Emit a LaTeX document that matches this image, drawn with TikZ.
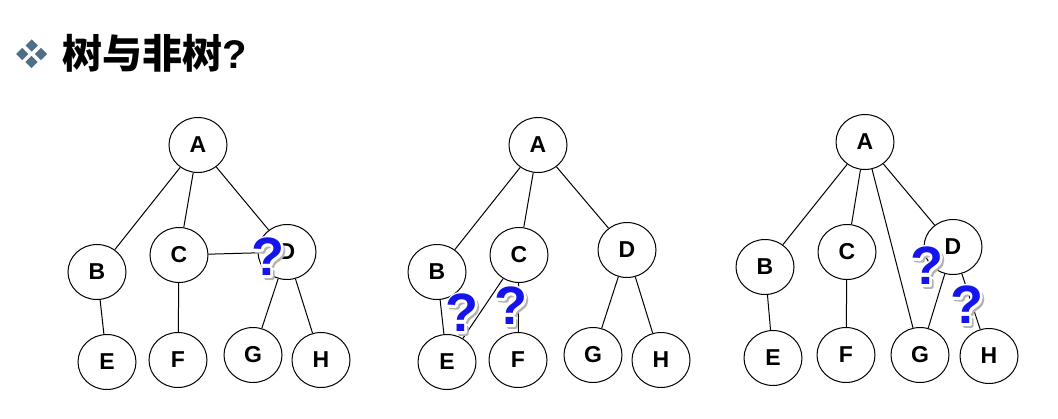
\documentclass[tikz,border=0pt]{standalone}
\usepackage{fontspec}
\setmainfont{Liberation Sans}
\newfontfamily\cjk{Noto Sans CJK SC}
\usetikzlibrary{shapes.geometric}
\definecolor{bullet}{RGB}{79,111,135}
\definecolor{qblue}{RGB}{20,20,235}
% glyphs drawn filled and stroked (text render mode 2), for outlines around a mark
\newcommand\strokedglyph[2]{\special{pdf:literal direct #1 2 Tr 1 j}#2\special{pdf:literal direct 0 Tr}}
\tikzset{
  vertex/.style={ellipse,draw,line width=1pt,inner sep=0pt,minimum width=58pt,minimum height=55pt,
    font=\fontsize{23}{23}\selectfont\bfseries},
  edge/.style={line width=1pt},
  qtext/.style={inner sep=0pt,font=\fontsize{54}{54}\selectfont\bfseries},
  qmarkstyle/.style={qtext,text=qblue},
  dia/.style={fill=bullet,draw=none,diamond,inner sep=0pt,minimum size=12.5pt}
}
% a question mark with a soft grey shadow and a white halo
\newcommand\qmark[3]{%
  \node[qtext,text=black!30,xshift=2.4pt,yshift=-2.4pt] (#1s) at (#2,#3)
    {\strokedglyph{0.7 0.7 0.7 RG 3 w}{?}};
  \node[qtext,text=white] (#1h) at (#2,#3) {\strokedglyph{1 1 1 RG 4.6 w}{?}};
  \node[qmarkstyle] (#1) at (#2,#3) {?};}
\begin{document}
\begin{tikzpicture}[x=1pt,y=-1pt]
\useasboundingbox (0,0) rectangle (1058,418);

% title with bullet
\node[dia] (d1) at (31.7,45.5) {};
\node[dia] (d2) at (22.3,54) {};
\node[dia] (d3) at (41,54) {};
\node[dia] (d4) at (31.5,62) {};
\node[anchor=base west,inner sep=0pt,font=\fontsize{40}{40}\selectfont\bfseries] (title) at (62,68) {{\cjk 树与非树}?};

% first graph
\node[vertex] (A1) at (198,145) {A};
\node[vertex] (B1) at (97,272) {B};
\node[vertex] (C1) at (179,255) {C};
\node[vertex] (D1) at (287,252) {D};
\node[vertex] (E1) at (107,362) {E};
\node[vertex] (F1) at (178,360) {F};
\node[vertex] (G1) at (253,355) {G};
\node[vertex] (H1) at (321,360) {H};
\draw[edge] (A1) -- (B1);
\draw[edge] (A1) -- (C1);
\draw[edge] (A1) -- (D1);
\draw[edge] (B1) -- (E1);
\draw[edge] (C1) -- (F1);
\draw[edge] (C1) -- (D1);
\draw[edge] (D1) -- (G1);
\draw[edge] (D1) -- (H1);
\qmark{q1}{268}{257}

% second graph
\node[vertex] (A2) at (538,145) {A};
\node[vertex] (B2) at (437,272) {B};
\node[vertex] (C2) at (519,255) {C};
\node[vertex] (D2) at (627,250) {D};
\node[vertex] (E2) at (447,362) {E};
\node[vertex] (F2) at (518,360) {F};
\node[vertex] (G2) at (593,355) {G};
\node[vertex] (H2) at (661,360) {H};
\draw[edge] (A2) -- (B2);
\draw[edge] (A2) -- (C2);
\draw[edge] (A2) -- (D2);
\draw[edge] (B2) -- (E2);
\draw[edge] (C2) -- (E2);
\draw[edge] (C2) -- (F2);
\draw[edge] (D2) -- (G2);
\draw[edge] (D2) -- (H2);
\qmark{q2}{462}{313}
\qmark{q3}{511}{306}

% third graph
\node[vertex] (A3) at (865,142) {A};
\node[vertex] (B3) at (765,267) {B};
\node[vertex] (C3) at (847,252) {C};
\node[vertex] (D3) at (953,247) {D};
\node[vertex] (E3) at (773,358) {E};
\node[vertex] (F3) at (846,355) {F};
\node[vertex] (G3) at (920,355) {G};
\node[vertex] (H3) at (989,356) {H};
\draw[edge] (A3) -- (B3);
\draw[edge] (A3) -- (C3);
\draw[edge] (A3) -- (G3);
\draw[edge] (A3) -- (D3);
\draw[edge] (B3) -- (E3);
\draw[edge] (C3) -- (F3);
\draw[edge] (D3) -- (G3);
\draw[edge] (D3) -- (H3);
\qmark{q4}{927}{266}
\qmark{q5}{967}{305}
\end{tikzpicture}
\end{document}
